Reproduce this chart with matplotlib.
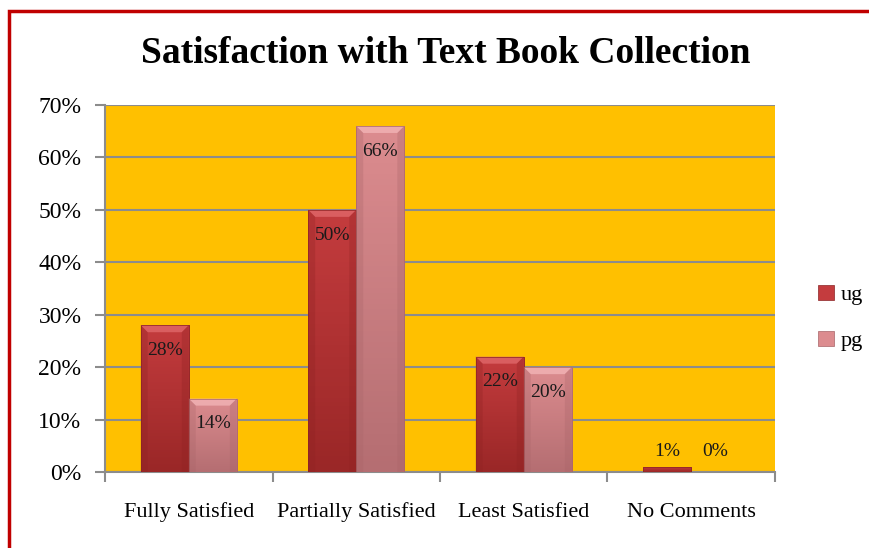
import numpy as np
import matplotlib.pyplot as plt
from matplotlib.patches import Rectangle, Polygon
from matplotlib.colors import LinearSegmentedColormap

categories = ["Fully Satisfied", "Partially Satisfied", "Least Satisfied", "No Comments"]
ug = [28, 50, 22, 1]
pg = [14, 66, 20, 0]
series_names = ["ug", "pg"]
yticks = [0, 10, 20, 30, 40, 50, 60, 70]

plt.rcParams['font.family'] = ['Liberation Serif', 'DejaVu Serif']

fig = plt.figure(figsize=(8.7, 5.48), dpi=100)
fig.patch.set_facecolor('white')
ax = fig.add_axes([0.1207, 0.1387, 0.7701, 0.6697])
ax.set_facecolor('#FFC000')

x = np.arange(len(categories))
bw = 0.287
styles = [
    dict(top='#C43C3E', bottom='#9A2727', edge='#8A2424', bevel='#E0686A', side='#8E2222'),
    dict(top='#DC8C8F', bottom='#B56E72', edge='#A86468', bevel='#F2B4B6', side='#A86468'),
]

ax.set_xlim(-0.5, len(categories) - 0.5)
ax.set_ylim(0, 70)

# pixel -> data conversions for the bevel size
px_x = 1.0 / (0.7701 * 870) * len(categories)
px_y = 70.0 / (0.6697 * 548)

def draw_bars(offset, values, st, label):
    bars = ax.bar(x + offset, values, bw, color=st['top'], edgecolor=st['edge'],
                  linewidth=0.5, zorder=3, label=label)
    cmap = LinearSegmentedColormap.from_list('g', [st['bottom'], st['top']])
    for b in bars:
        x0, w, h = b.get_x(), b.get_width(), b.get_height()
        if h <= 0:
            continue
        grad = np.linspace(0, 1, 64).reshape(-1, 1)
        im = ax.imshow(grad, cmap=cmap, origin='lower', aspect='auto',
                       extent=(x0, x0 + w, 0, h), zorder=3.1)
        im.set_clip_path(b)
        bev_x = 7 * px_x
        bev_y = min(7 * px_y, h * 0.45)
        if h > 2:
            ax.add_patch(Polygon([(x0, h), (x0 + w, h), (x0 + w - bev_x, h - bev_y),
                                  (x0 + bev_x, h - bev_y)], closed=True,
                                 facecolor=st['bevel'], edgecolor='none', alpha=0.8, zorder=3.2))
            ax.add_patch(Polygon([(x0, h), (x0 + bev_x, h - bev_y), (x0 + bev_x, 0), (x0, 0)],
                                 closed=True, facecolor=st['side'], edgecolor='none',
                                 alpha=0.3, zorder=3.2))
            ax.add_patch(Polygon([(x0 + w, h), (x0 + w - bev_x, h - bev_y), (x0 + w - bev_x, 0),
                                  (x0 + w, 0)], closed=True, facecolor=st['side'],
                                 edgecolor='none', alpha=0.3, zorder=3.2))
        ax.add_patch(Rectangle((x0, 0), w, h, facecolor='none', edgecolor=st['edge'],
                               linewidth=0.5, zorder=3.3))
    for xi, v in zip(x + offset, values):
        ax.text(xi, max(v - 4.8, 4.0), f"{v}%", ha='center', va='center',
                fontsize=14, color='#1a1a1a', zorder=4)
    return bars

draw_bars(-bw / 2, ug, styles[0], series_names[0])
draw_bars(bw / 2, pg, styles[1], series_names[1])

ax.set_yticks(yticks)
ax.set_yticklabels([f"{t}%" for t in yticks], fontsize=17)
ax.yaxis.grid(True, color='#8C8C8C', linewidth=1.5, zorder=1)
ax.set_axisbelow(True)
ax.set_xticks(x)
ax.set_xticklabels(categories, fontsize=16)
ax.set_xticks(np.arange(-0.5, len(categories)), minor=True)
ax.tick_params(axis='x', which='major', length=0, pad=22)
ax.tick_params(axis='x', which='minor', length=7, width=1.5, color='#8C8C8C')
ax.tick_params(axis='y', length=7, width=1.5, color='#8C8C8C', pad=10)
for s in ['top', 'right']:
    ax.spines[s].set_visible(False)
for s in ['left', 'bottom']:
    ax.spines[s].set_color('#8C8C8C')
    ax.spines[s].set_linewidth(1.5)

leg = ax.legend(loc='center left', bbox_to_anchor=(1.035, 0.42), frameon=False,
                fontsize=16, handlelength=0.7, handleheight=0.7, handletextpad=0.3,
                labelspacing=1.15)

fig.text(0.512, 0.903, "Satisfaction with Text Book Collection", ha='center', va='center',
         fontsize=27, fontweight='bold', color='black')

# outer frame
fig.patches.append(Rectangle((9.5 / 870, -0.1), 1.2, 1.1 - 11.5 / 548, transform=fig.transFigure,
                             facecolor='none', edgecolor='#C00000', linewidth=2.5, zorder=10))

fig.savefig('out.png', dpi=100)
